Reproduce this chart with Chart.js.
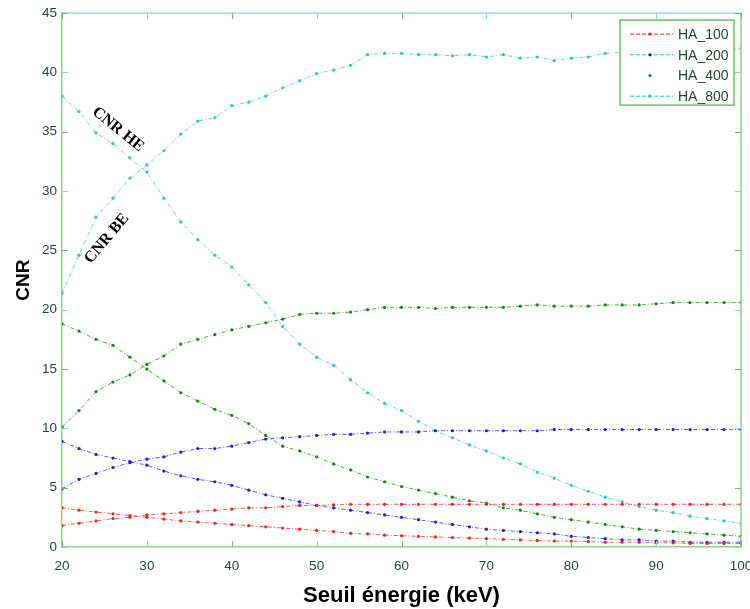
<!DOCTYPE html>
<html>
<head>
<meta charset="utf-8">
<script src="https://cdn.jsdelivr.net/npm/chart.js@4.4.1/dist/chart.umd.min.js"></script>
<style>
html, body { margin: 0; padding: 0; background: #fff; }
#c { display: block; }
</style>
</head>
<body>
<canvas id="c" width="750" height="609"></canvas>
<script>
// seuil (keV)
const energies = [20,22,24,26,28,30,32,34,36,38,40,42,44,46,48,50,52,54,56,58,60,
                  62,64,66,68,70,72,74,76,78,80,82,84,86,88,90,92,94,96,98,100];

// CNR basse energie (croissant) / haute energie (decroissant)
const ha100BE = [1.8,2.0,2.2,2.4,2.5,2.7,2.8,2.9,3.0,3.1,3.2,3.3,3.3,3.4,3.5,3.5,3.55,3.6,3.6,3.6,3.6,
                 3.6,3.6,3.6,3.6,3.6,3.6,3.6,3.6,3.6,3.6,3.6,3.6,3.6,3.6,3.6,3.6,3.6,3.6,3.6,3.6];
const ha100HE = [3.3,3.1,2.95,2.8,2.65,2.5,2.35,2.2,2.1,2.0,1.9,1.8,1.7,1.6,1.5,1.4,1.3,1.15,1.1,1.0,0.95,
                 0.9,0.85,0.8,0.75,0.7,0.65,0.6,0.55,0.5,0.5,0.45,0.4,0.4,0.4,0.35,0.35,0.3,0.3,0.3,0.3];
const ha200BE = [4.9,5.7,6.2,6.7,7.1,7.4,7.6,8.0,8.3,8.3,8.5,8.8,9.1,9.2,9.3,9.4,9.5,9.5,9.6,9.7,9.7,
                 9.7,9.8,9.8,9.8,9.8,9.8,9.8,9.8,9.9,9.9,9.9,9.9,9.9,9.9,9.9,9.9,9.9,9.9,9.9,9.9];
const ha200HE = [8.9,8.3,7.8,7.5,7.2,6.9,6.4,6.0,5.7,5.5,5.2,4.8,4.4,4.1,3.8,3.5,3.3,3.1,2.9,2.7,2.5,
                 2.3,2.1,1.9,1.7,1.5,1.4,1.3,1.2,1.1,0.9,0.8,0.7,0.6,0.6,0.5,0.5,0.4,0.4,0.4,0.4];
const ha400BE = [10.1,11.5,13.1,13.9,14.5,15.4,16.1,17.1,17.5,17.9,18.3,18.6,18.9,19.2,19.6,19.7,19.7,19.8,20.0,20.2,20.2,
                 20.2,20.1,20.2,20.2,20.2,20.2,20.3,20.4,20.3,20.3,20.3,20.4,20.4,20.4,20.5,20.6,20.6,20.6,20.6,20.6];
const ha400HE = [18.8,18.2,17.5,17.0,16.0,15.0,14.0,13.0,12.3,11.6,11.1,10.4,9.4,8.5,8.1,7.6,7.0,6.5,5.9,5.5,5.1,
                 4.8,4.5,4.2,3.9,3.7,3.3,3.1,2.8,2.5,2.3,2.1,1.9,1.7,1.5,1.4,1.3,1.2,1.1,1.0,0.9];
const ha800BE = [21.4,24.6,27.8,29.4,31.1,32.2,33.4,34.8,35.9,36.2,37.2,37.5,38.0,38.7,39.3,39.9,40.2,40.6,41.5,41.6,41.6,
                 41.5,41.5,41.4,41.5,41.3,41.5,41.2,41.3,41.0,41.2,41.3,41.6,41.7,41.7,41.8,41.8,41.9,41.9,42.0,42.0];
const ha800HE = [38.0,36.7,34.9,34.0,32.8,31.6,29.4,27.4,25.9,24.6,23.6,22.1,20.6,18.6,17.1,16.0,15.3,14.1,13.0,12.1,11.5,
                 10.6,9.8,9.2,8.6,8.1,7.5,7.0,6.3,5.8,5.2,4.7,4.2,3.8,3.4,3.1,2.9,2.6,2.4,2.2,2.0];

const legendLabels = ['HA_100', 'HA_200', 'HA_400', 'HA_800'];
const xTicks = [20,30,40,50,60,70,80,90,100];
const yTicks = [0,5,10,15,20,25,30,35,40,45];

const red = '#ff1a1a', blue = '#1a1aff', green = '#118a11', cyan = '#22c8c8';
const legendLine = [red, cyan, null, cyan];
const legendDot = [red, blue, green, cyan];

const pts = arr => energies.map((e, i) => ({x: e, y: arr[i]}));

const mkSet = (label, arr, col) => ({
    label: label,
    data: pts(arr),
    borderColor: col + 'bb',
    backgroundColor: col,
    pointBackgroundColor: col,
    pointBorderWidth: 0,
    pointRadius: 1.6,
    borderWidth: 1,
    borderDash: [4, 2, 1, 2],
    tension: 0
});

// petits traits vers l'interieur + cadre haut/droite
const frame = {
    id: 'frame',
    afterDraw(chart) {
        const {ctx, chartArea: a, scales} = chart;
        ctx.save();
        ctx.lineWidth = 1.5;
        ctx.strokeStyle = '#8fe0e0';
        ctx.beginPath(); ctx.moveTo(a.left, a.top); ctx.lineTo(a.right, a.top); ctx.stroke();
        ctx.strokeStyle = '#8fd08f';
        ctx.beginPath(); ctx.moveTo(a.right, a.top); ctx.lineTo(a.right, a.bottom); ctx.stroke();
        ctx.lineWidth = 1;
        xTicks.forEach((v, i) => {
            const px = Math.round(scales.x.getPixelForValue(v)) + 0.5;
            ctx.strokeStyle = i % 2 ? '#80d8e0' : '#6cbf6c';
            ctx.beginPath(); ctx.moveTo(px, a.bottom); ctx.lineTo(px, a.bottom - 6); ctx.stroke();
            ctx.beginPath(); ctx.moveTo(px, a.top); ctx.lineTo(px, a.top + 6); ctx.stroke();
        });
        yTicks.forEach((v, i) => {
            const py = Math.round(scales.y.getPixelForValue(v)) + 0.5;
            ctx.strokeStyle = i % 2 ? '#6cbf6c' : '#80d8e0';
            ctx.beginPath(); ctx.moveTo(a.left, py); ctx.lineTo(a.left + 6, py); ctx.stroke();
            ctx.beginPath(); ctx.moveTo(a.right, py); ctx.lineTo(a.right - 6, py); ctx.stroke();
        });

        // legende
        const bx = a.right - 121, by = a.top + 7, bw = 114, bh = 85;
        ctx.fillStyle = '#fff';
        ctx.fillRect(bx, by, bw, bh);
        ctx.strokeStyle = '#6cbf6c';
        ctx.lineWidth = 1.5;
        ctx.strokeRect(bx, by, bw, bh);
        ctx.font = '14px "Liberation Sans", Arial, sans-serif';
        ctx.textBaseline = 'middle';
        legendLabels.forEach((lab, i) => {
            const y = by + 14 + i * 20.7;
            if (legendLine[i]) {
                ctx.strokeStyle = legendLine[i];
                ctx.lineWidth = 1;
                ctx.setLineDash([4, 2]);
                ctx.beginPath(); ctx.moveTo(bx + 10, y); ctx.lineTo(bx + 53, y); ctx.stroke();
                ctx.setLineDash([]);
            }
            ctx.fillStyle = legendDot[i];
            ctx.beginPath(); ctx.arc(bx + 30, y, 1.6, 0, Math.PI * 2); ctx.fill();
            ctx.fillStyle = '#1d4a2c';
            ctx.fillText(lab, bx + 58, y + 1);
        });

        // annotations
        ctx.fillStyle = '#000';
        ctx.font = 'bold 16px "Liberation Serif", "Times New Roman", serif';
        ctx.textAlign = 'center';
        const notes = [['CNR HE', 26.6, 35.2, 39], ['CNR BE', 25.3, 26.0, -50]];
        notes.forEach(([t, xv, yv, ang]) => {
            ctx.save();
            ctx.translate(scales.x.getPixelForValue(xv), scales.y.getPixelForValue(yv));
            ctx.rotate(ang * Math.PI / 180);
            ctx.fillText(t, 0, 0);
            ctx.restore();
        });
        ctx.restore();
    }
};

new Chart(document.getElementById('c').getContext('2d'), {
    type: 'line',
    data: {
        datasets: [
            mkSet('HA_100 BE', ha100BE, red),
            mkSet('HA_100 HE', ha100HE, red),
            mkSet('HA_200 BE', ha200BE, blue),
            mkSet('HA_200 HE', ha200HE, blue),
            mkSet('HA_400 BE', ha400BE, green),
            mkSet('HA_400 HE', ha400HE, green),
            mkSet('HA_800 BE', ha800BE, cyan),
            mkSet('HA_800 HE', ha800HE, cyan)
        ]
    },
    options: {
        responsive: false,
        animation: false,
        devicePixelRatio: 1,
        layout: { padding: { top: 13, right: 9, left: 0, bottom: 0 } },
        plugins: { legend: { display: false }, tooltip: { enabled: false } },
        scales: {
            x: {
                type: 'linear', min: 20, max: 100,
                afterBuildTicks: s => { s.ticks = xTicks.map(v => ({value: v})); },
                afterFit: s => { s.height = 62; s.paddingLeft = 0; s.paddingRight = 0; },
                grid: { display: false, drawTicks: false },
                border: { display: true, color: '#8fd08f', width: 1.5 },
                ticks: { padding: 11, maxRotation: 0, color: '#1d4a3c',
                         font: { family: '"Liberation Sans", Arial, sans-serif', size: 13.5 } },
                title: { display: true, text: 'Seuil énergie (keV)', color: '#000',
                         padding: { top: 0, bottom: 0 },
                         font: { family: '"Liberation Sans", Arial, sans-serif', size: 22, weight: 'bold' } }
            },
            y: {
                min: 0, max: 45,
                afterBuildTicks: s => { s.ticks = yTicks.map(v => ({value: v})); },
                afterFit: s => { s.width = 62; },
                grid: { display: false, drawTicks: false },
                border: { display: true, color: '#8fd08f', width: 1.5 },
                ticks: { padding: 5, color: '#1d4a3c',
                         font: { family: '"Liberation Sans", Arial, sans-serif', size: 13.5 } },
                title: { display: true, text: 'CNR', color: '#000',
                         padding: { top: 12, bottom: 0 },
                         font: { family: '"Liberation Sans", Arial, sans-serif', size: 19, weight: 'bold' } }
            }
        }
    },
    plugins: [frame]
});
</script>
</body>
</html>
